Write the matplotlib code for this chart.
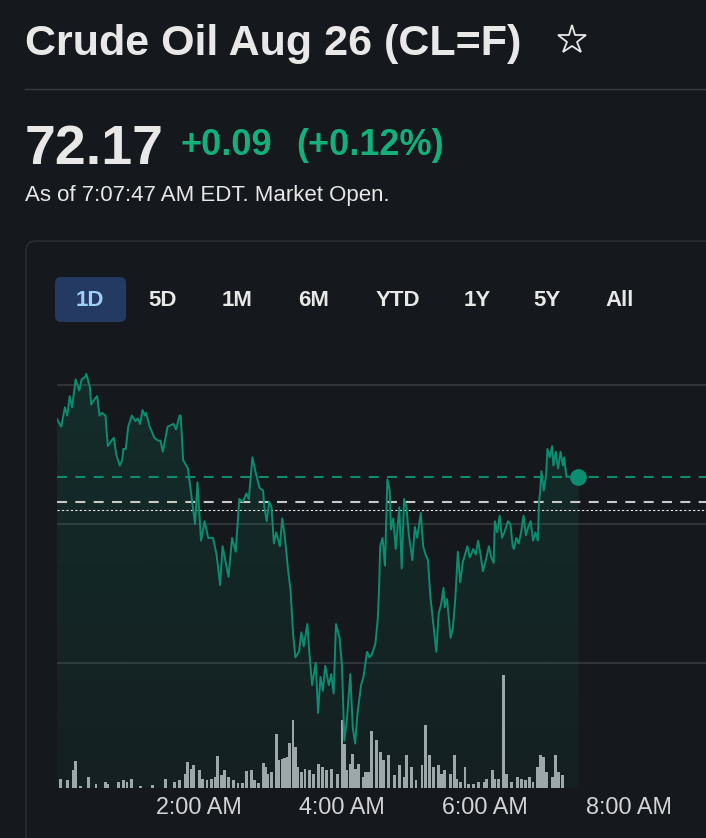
import numpy as np
import matplotlib
matplotlib.use("Agg")
import matplotlib.pyplot as plt
from matplotlib.patches import FancyBboxPatch

plt.rcParams['font.family'] = ['Liberation Sans', 'DejaVu Sans']
plt.rcParams['lines.scale_dashes'] = False

# minutes after midnight (EDT) and last price
times = [1, 5, 8, 10, 12, 14, 17, 20, 22, 25,
         26, 29, 30, 33, 35, 37, 39, 42, 43, 44,
         47, 49, 51, 54, 56, 57, 59, 61, 64, 67,
         69, 71, 73, 75, 76, 79, 83, 86, 88, 90,
         94, 99, 101, 104, 105, 107, 111, 114, 117, 119,
         122, 125, 128, 132, 135, 138, 140, 145, 148, 151,
         154, 157, 160, 162, 165, 168, 171, 174, 175, 177,
         179, 181, 183, 185, 188, 190, 192, 195, 197, 199,
         201, 204, 206, 208, 211, 213, 215, 218, 220, 222,
         224, 226, 229, 231, 233, 235, 238, 240, 242, 244,
         247, 249, 251, 253, 256, 258, 261, 263, 265, 268,
         270, 271, 272, 274, 276, 278, 280, 281, 283, 285,
         288, 290, 292, 294, 296, 299, 301, 303, 306, 308,
         310, 312, 314, 316, 319, 321, 323, 325, 326, 328,
         331, 333, 335, 337, 339, 341, 343, 345, 347, 350,
         352, 354, 356, 358, 361, 363, 365, 367, 368, 370,
         372, 374, 376, 379, 381, 383, 384, 386, 388, 390,
         392, 394, 396, 398, 400, 402, 404, 405, 406, 407,
         409, 411, 412, 414, 416, 417, 419, 421, 423, 425,
         426, 428, 432, 438]
prices = [72.38, 72.35, 72.42, 72.39, 72.46, 72.42, 72.52, 72.48, 72.52, 72.53,
          72.54, 72.49, 72.43, 72.45, 72.46, 72.39, 72.40, 72.39, 72.33, 72.28,
          72.30, 72.31, 72.25, 72.21, 72.23, 72.27, 72.27, 72.35, 72.39, 72.37,
          72.38, 72.36, 72.41, 72.39, 72.40, 72.35, 72.31, 72.30, 72.30, 72.26,
          72.35, 72.36, 72.34, 72.39, 72.39, 72.23, 72.20, 72.10, 72.00, 72.15,
          71.94, 72.01, 71.95, 71.95, 71.89, 71.78, 71.92, 71.81, 71.95, 71.90,
          72.09, 72.08, 72.11, 72.09, 72.24, 72.18, 72.13, 72.12, 72.06, 72.01,
          72.08, 72.06, 71.93, 71.97, 71.92, 72.02, 71.96, 71.83, 71.76, 71.61,
          71.52, 71.54, 71.61, 71.56, 71.64, 71.52, 71.42, 71.50, 71.32, 71.45,
          71.40, 71.49, 71.42, 71.46, 71.39, 71.64, 71.59, 71.49, 71.22, 71.29,
          71.46, 71.27, 71.21, 71.32, 71.42, 71.45, 71.54, 71.52, 71.53, 71.57,
          71.66, 71.76, 71.92, 71.95, 71.85, 72.16, 72.12, 71.98, 72.02, 71.91,
          72.06, 71.84, 72.09, 72.06, 71.96, 71.87, 71.99, 71.95, 72.04, 71.92,
          71.89, 71.87, 71.74, 71.66, 71.54, 71.68, 71.71, 71.77, 71.70, 71.73,
          71.59, 71.63, 71.74, 71.90, 71.79, 71.86, 71.89, 71.92, 71.88, 71.91,
          71.89, 71.94, 71.89, 71.83, 71.88, 71.92, 71.88, 71.86, 72.01, 71.97,
          72.03, 71.95, 71.97, 72.01, 72.00, 71.92, 71.91, 71.95, 71.93, 71.97,
          72.03, 71.96, 71.99, 72.01, 71.94, 71.97, 71.94, 72.08, 72.12, 72.19,
          72.12, 72.18, 72.27, 72.24, 72.28, 72.21, 72.26, 72.20, 72.26, 72.21,
          72.24, 72.17, 72.17, 72.17]

vol_times = [4, 10, 15, 17, 21, 28, 34, 42, 44, 53,
             57, 60, 64, 71, 81, 92, 100, 104, 109, 111,
             114, 116, 121, 123, 127, 131, 134, 136, 139, 142,
             145, 149, 153, 157, 160, 164, 167, 170, 174, 176,
             178, 181, 185, 187, 190, 192, 194, 196, 199, 201,
             203, 206, 209, 213, 216, 220, 224, 227, 231, 236,
             240, 242, 244, 247, 249, 251, 254, 258, 260, 262,
             265, 269, 272, 275, 279, 284, 288, 292, 294, 298,
             302, 307, 310, 313, 317, 321, 323, 326, 331, 334,
             336, 339, 343, 346, 350, 354, 359, 361, 366, 368,
             371, 375, 378, 382, 387, 390, 394, 397, 400, 404,
             406, 409, 411, 416, 419, 421, 425]
volumes = [90, 80, 180, 270, 20, 110, 40, 60, 40, 60,
           80, 60, 90, 20, 30, 90, 60, 80, 140, 260,
           190, 230, 180, 90, 80, 90, 110, 320, 130, 180,
           110, 80, 50, 50, 170, 180, 80, 50, 250, 210,
           140, 160, 540, 280, 290, 300, 310, 450, 680, 410,
           210, 160, 190, 180, 140, 240, 210, 180, 190, 140,
           680, 440, 180, 240, 340, 190, 240, 110, 160, 160,
           570, 480, 360, 280, 330, 130, 230, 110, 330, 210,
           80, 230, 630, 330, 210, 230, 140, 180, 140, 330,
           90, 60, 210, 40, 40, 60, 60, 90, 180, 90,
           90, 1130, 140, 60, 110, 90, 80, 110, 60, 210,
           330, 310, 160, 110, 330, 160, 130]

last_price = 72.17
prev_close = 72.08
open_price = 72.05
grid_levels = [71.5, 72.0, 72.5]
tick_times = [120, 240, 360, 480]
tick_labels = ['2:00 AM', '4:00 AM', '6:00 AM', '8:00 AM']
ranges = ['1D', '5D', '1M', '6M', 'YTD', '1Y', '5Y', 'All']
range_x = [90, 163, 237, 314, 398, 477, 547, 620]

BG = '#15181c'
FG = '#e8e8e9'
TEAL = '#0c8d70'
GREEN = '#13b07c'

W, H = 706, 838
fig = plt.figure(figsize=(W / 100, H / 100), dpi=100, facecolor=BG)

# decoration layer in pixel coordinates
deco = fig.add_axes([0, 0, 1, 1])
deco.set_xlim(0, W)
deco.set_ylim(H, 0)
deco.axis('off')
deco.set_zorder(0)

deco.text(25, 55, 'Crude Oil Aug 26 (CL=F)', fontsize=31, fontweight='bold',
          color=FG, va='baseline')
deco.plot(572, 40, marker='*', ms=21, mfc='none', mec=FG, mew=1.3)
deco.plot([25, W], [89, 89], color='#383b40', lw=1)
deco.text(25, 164, '72.17', fontsize=40, fontweight='bold', color=FG, va='baseline')
deco.text(180, 155, '+0.09', fontsize=26, fontweight='bold', color=GREEN, va='baseline')
deco.text(296, 155, '(+0.12%)', fontsize=26, fontweight='bold', color=GREEN, va='baseline')
deco.text(25, 201, 'As of 7:07:47 AM EDT. Market Open.', fontsize=16, color=FG,
          va='baseline')

deco.add_patch(FancyBboxPatch((26, 241), 720, 700,
                              boxstyle='round,pad=0,rounding_size=10',
                              fc='none', ec='#2c2f34', lw=1))
deco.add_patch(FancyBboxPatch((55, 277), 71, 45,
                              boxstyle='round,pad=0,rounding_size=6',
                              fc='#243a63', ec='none'))
for lab, x in zip(ranges, range_x):
    deco.text(x, 300, lab, fontsize=16, fontweight='bold',
              family=['Liberation Sans Narrow', 'Liberation Sans', 'DejaVu Sans'],
              color='#9fd0fa' if lab == '1D' else FG, ha='center', va='center')

# price chart
ymin, ymax = 71.05, 72.572
ax = fig.add_axes([57 / W, 50 / H, (W - 57) / W, 423 / H])
ax.set_zorder(2)
ax.patch.set_visible(False)

t = np.array(times)
p = np.array(prices)
poly = ax.fill_between(t, p, ymin, color='none', lw=0)
grad = np.zeros((256, 1, 4))
grad[:, 0, 0] = 12 / 255
grad[:, 0, 1] = 140 / 255
grad[:, 0, 2] = 112 / 255
grad[:, 0, 3] = np.linspace(0.18, 0.07, 256)
im = ax.imshow(grad, extent=[t[0], t[-1], ymin, p.max()], aspect='auto',
               origin='upper', zorder=1)
im.set_clip_path(poly.get_paths()[0], transform=ax.transData)

for g in grid_levels:
    ax.axhline(g, color='#3a3d42', lw=1.1, zorder=0.5)
ax.axhline(last_price, color=TEAL, lw=1.5, ls=(0, (7.2, 6)), zorder=2)
ax.axhline(prev_close, color='#c8c8c8', lw=1.5, ls=(0, (7.2, 6)), zorder=2)
ax.axhline(open_price, color='#e6e6e6', lw=0.8, ls=(0, (1.6, 1.6)), zorder=2)

ax.plot(t, p, color=TEAL, lw=1.4, zorder=3)
ax.plot(t[-1], p[-1], 'o', ms=11, color=TEAL, zorder=4)

ax.set_xlim(1.4, 544.8)
ax.set_ylim(ymin, ymax)
ax.set_yticks([])
ax.set_xticks(tick_times)
ax.set_xticklabels(tick_labels)
ax.tick_params(axis='x', length=0, pad=5.5, labelsize=16.8, labelcolor='#d4d4d6')
for s in ax.spines.values():
    s.set_visible(False)

# volume
axv = ax.twinx()
axv.set_zorder(1)
axv.bar(vol_times, volumes, width=2.4, color='#a9abaf', lw=0)
axv.set_ylim(0, max(volumes) * 423 / 113)
axv.set_yticks([])
for s in axv.spines.values():
    s.set_visible(False)

fig.savefig('out.png', dpi=100, facecolor=BG)
